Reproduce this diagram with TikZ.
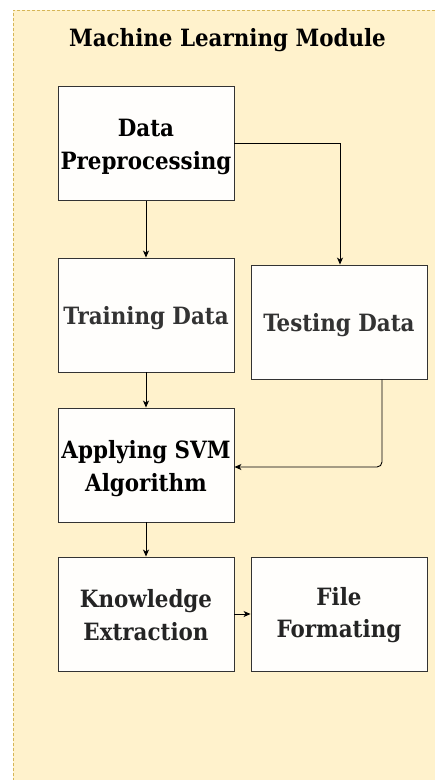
\documentclass[tikz,border=0pt]{standalone}
\usepackage{fontspec}
\setmainfont{DejaVu Serif Condensed}
\usetikzlibrary{arrows.meta}
\definecolor{panelfill}{HTML}{FFF2CC}
\definecolor{panelline}{HTML}{D6B656}
\definecolor{boxline}{HTML}{333333}
\definecolor{softtext}{HTML}{333333}
\tikzset{
  stagebox/.style={draw=boxline, line width=0.9pt, fill=white, fill opacity=0.95,
    minimum width=176pt, minimum height=114pt, inner sep=0pt},
  stagefont/.style={align=center, font=\bfseries\fontsize{23.8}{32.5}\selectfont},
  flow/.style={draw=black, line width=0.9pt,
    -{Stealth[length=7pt, width=6pt, inset=2pt]}},
}
% a box with its caption, centred a little below the middle
\newcommand\stagenode[6][-3.5pt]{%
  \node[stagebox, label={[yshift=#1, stagefont, text=#3]center:#6}] (#2) at (#4,#5) {};}
\begin{document}
\begin{tikzpicture}[x=1pt, y=-1pt]
  \useasboundingbox (0,0) rectangle (435,780);
  % module panel, running past the right and bottom edges
  \path[fill=panelfill] (13,10) rectangle (440,790);
  \draw[panelline, line width=0.8pt, dash pattern=on 3pt off 2pt] (440,10) -- (13,10) -- (13,790);
  \node[font=\bfseries\fontsize{23.8}{28}\selectfont] (title) at (227.5,40) {Machine Learning Module};

  \stagenode{dp}{black}{146}{143.5}{Data\\Preprocessing}
  \stagenode{train}{softtext}{146}{315}{Training Data}
  \stagenode{test}{softtext}{339}{322}{Testing Data}
  \stagenode{svm}{black}{146}{465}{Applying SVM\\Algorithm}
  \stagenode[-1pt]{know}{softtext!70!black}{146}{614}{Knowledge\\Extraction}
  \stagenode[-1pt]{file}{softtext!70!black}{339}{614}{File\\Formating}

  \draw[flow] (dp) -- (train);
  \draw[flow] (dp.east) -| ([xshift=1pt]test.north);
  \draw[flow] (train) -- (svm);
  \draw[flow, rounded corners=5pt] ([xshift=43pt]test.south) |- ([yshift=-2pt]svm.east);
  \draw[flow] (svm) -- (know);
  \draw[flow] (know) -- (file);
\end{tikzpicture}
\end{document}
